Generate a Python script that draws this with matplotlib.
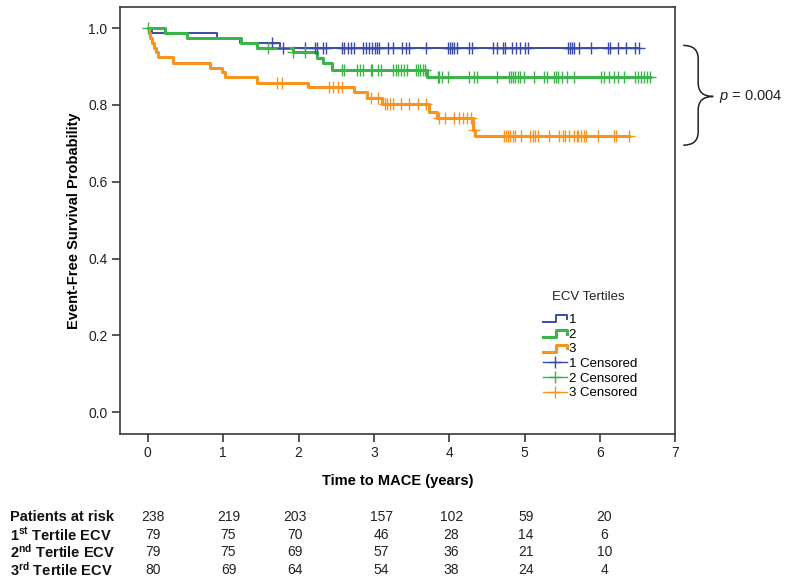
import numpy as np
import matplotlib
matplotlib.use("Agg")
import matplotlib.pyplot as plt
from matplotlib.lines import Line2D
from matplotlib.path import Path
from matplotlib.patches import PathPatch
from matplotlib.legend_handler import HandlerBase
import matplotlib.transforms as mtransforms

plt.rcParams['font.family'] = ['Liberation Sans', 'DejaVu Sans']
plt.rcParams['mathtext.fontset'] = 'custom'
plt.rcParams['mathtext.rm'] = 'Liberation Sans'
plt.rcParams['mathtext.it'] = 'Liberation Sans:italic'
plt.rcParams['mathtext.bf'] = 'Liberation Sans:bold'

# --- data (years, survival) ---
t1_events = [0.05, 0.92, 1.22, 1.76]
s1_events = [0.987, 0.975, 0.962, 0.949]
t1_cens = [1.65, 1.80, 2.09, 2.22, 2.25, 2.33, 2.36, 2.58, 2.60, 2.65, 2.69, 2.73,
           2.85, 2.89, 2.93, 2.98, 3.01, 3.04, 3.07, 3.19, 3.25, 3.38, 3.42, 3.47,
           3.69, 3.98, 4.01, 4.04, 4.07, 4.11, 4.26, 4.30, 4.58, 4.64, 4.71, 4.74,
           4.84, 4.89, 4.94, 5.00, 5.04, 5.58, 5.60, 5.63, 5.66, 5.72, 5.88, 6.11,
           6.14, 6.24, 6.35, 6.47, 6.52]

t2_events = [0.23, 0.52, 1.24, 1.45, 1.92, 2.25, 2.32, 2.45, 3.71]
s2_events = [0.987, 0.975, 0.962, 0.949, 0.937, 0.921, 0.908, 0.892, 0.872]
t2_cens = [0.0, 1.60, 1.92, 2.09, 2.58, 2.61, 2.78, 2.81, 2.86, 2.96, 2.98, 3.05,
           3.09, 3.26, 3.29, 3.32, 3.36, 3.40, 3.44, 3.56, 3.58, 3.61, 3.65, 3.68,
           3.85, 3.87, 3.91, 3.99, 4.26, 4.33, 4.37, 4.63, 4.79, 4.82, 4.85, 4.87,
           4.91, 4.94, 4.99, 5.13, 5.26, 5.30, 5.39, 5.42, 5.45, 5.50, 5.56, 5.66,
           6.01, 6.06, 6.12, 6.19, 6.24, 6.32, 6.46, 6.51, 6.55, 6.59, 6.63, 6.67]

t3_events = [0.01, 0.03, 0.05, 0.08, 0.11, 0.13, 0.33, 0.83, 0.98, 1.03, 1.45,
             2.12, 2.73, 2.91, 3.11, 3.73, 3.84, 4.31, 4.32, 4.34]
s3_events = [0.987, 0.975, 0.962, 0.949, 0.937, 0.925, 0.910, 0.897, 0.885, 0.872,
             0.858, 0.846, 0.834, 0.817, 0.802, 0.781, 0.766, 0.750, 0.735, 0.720]
t3_cens = [1.72, 1.78, 2.41, 2.46, 2.52, 2.58, 2.96, 3.05, 3.15, 3.18, 3.22, 3.26,
           3.36, 3.46, 3.58, 3.69, 3.86, 3.95, 4.06, 4.13, 4.18, 4.23, 4.29, 4.33,
           4.73, 4.75, 4.78, 4.81, 4.85, 4.87, 4.95, 5.07, 5.11, 5.14, 5.18, 5.33,
           5.46, 5.51, 5.54, 5.59, 5.65, 5.69, 5.71, 5.75, 5.79, 5.82, 5.98, 6.19,
           6.22, 6.39]

group_labels = ['1', '2', '3']
colors = ['#3a4ca8', '#3bb54a', '#f7941d']
widths = [1.4, 2.2, 2.2]

risk_labels = ['Patients at risk', r'1$^{\mathbf{st}}$ Tertile ECV',
               r'2$^{\mathbf{nd}}$ Tertile ECV', r'3$^{\mathbf{rd}}$ Tertile ECV']
risk_total = [238, 219, 203, 157, 102, 59, 20]
risk_t1 = [79, 75, 70, 46, 28, 14, 6]
risk_t2 = [79, 75, 69, 57, 36, 21, 10]
risk_t3 = [80, 69, 64, 54, 38, 24, 4]
p_text = r'$\it{p}$ = 0.004'


def surv_at(t, times, surv):
    idx = np.searchsorted(times, t, side='right')
    return np.r_[1.0, surv][idx]


class StepHandler(HandlerBase):
    def create_artists(self, legend, orig_handle, xdescent, ydescent,
                       width, height, fontsize, trans):
        xs = np.array([0, 0.55, 0.55, 1.0, 1.0]) * width - xdescent
        ys = np.array([0.1, 0.1, 0.85, 0.85, 0.45]) * height - ydescent
        ln = Line2D(xs, ys, color=orig_handle.get_color(),
                    lw=orig_handle.get_linewidth(), transform=trans)
        return [ln]


fig = plt.figure(figsize=(8, 5.83), dpi=100)
ax = fig.add_axes([0.15, 0.2556, 0.694, 0.7324])

groups = [(t1_events, s1_events, t1_cens),
          (t2_events, s2_events, t2_cens),
          (t3_events, s3_events, t3_cens)]

step_handles = []
cens_handles = []
for (te, se, tc), col, lw, lab in zip(groups, colors, widths, group_labels):
    end = max(tc)
    xs = np.r_[0.0, te, end]
    ys = np.r_[1.0, se, se[-1]]
    ax.step(xs, ys, where='post', color=col, lw=lw, zorder=3)
    ax.plot(tc, surv_at(np.array(tc), te, se), ls='none', marker='+',
            ms=8, mew=1.0, color=col, zorder=4)
    step_handles.append(Line2D([], [], color=col, lw=lw, label=lab))
    cens_handles.append(Line2D([], [], color=col, lw=1.0, marker='+', ms=9,
                               mew=1.0, label=lab + ' Censored'))

ax.set_xlim(-0.37, 7.0)
ax.set_ylim(-0.057, 1.055)
ax.set_xticks(range(8))
ax.set_yticks([0.0, 0.2, 0.4, 0.6, 0.8, 1.0])
ax.set_yticklabels(['0.0', '0.2', '0.4', '0.6', '0.8', '1.0'])
for sp in ax.spines.values():
    sp.set_color('#3a3a3a')
    sp.set_linewidth(1.2)
ax.tick_params(direction='out', length=6, width=1.2, color='#3a3a3a',
               labelsize=10, labelcolor='#222222', pad=3)
ax.set_ylabel('Event-Free Survival Probability', fontsize=10.5,
              fontweight='bold', labelpad=5)
ax.set_xlabel('Time to MACE (years)', fontsize=10.5, fontweight='bold',
              labelpad=10)

leg = ax.legend(handles=step_handles + cens_handles,
                loc='upper left', bbox_to_anchor=(543 / 800, 1 - 314 / 583),
                bbox_transform=fig.transFigure, frameon=False, fontsize=9.5,
                handlelength=1.8, handletextpad=0.15,
                labelspacing=0.18, borderpad=0, borderaxespad=0,
                handler_map={h: StepHandler() for h in step_handles})
fig.text(588 / 800, 1 - 297 / 583, 'ECV Tertiles', fontsize=9.5, ha='center',
         va='center', color='#222222')

# brace and p-value to the right of the axes
bt = mtransforms.blended_transform_factory(ax.transAxes, ax.transData)
xh, xs_, xt = 1.0144, 1.0414, 1.0685
yt, ym, yb, d = 0.955, 0.822, 0.695, 0.035
verts = [(xh, yt), (xs_, yt), (xs_, yt - d), (xs_, ym + d), (xs_, ym), (xt, ym),
         (xs_, ym), (xs_, ym - d), (xs_, yb + d), (xs_, yb), (xh, yb)]
codes = [Path.MOVETO, Path.CURVE3, Path.CURVE3, Path.LINETO, Path.CURVE3, Path.CURVE3,
         Path.CURVE3, Path.CURVE3, Path.LINETO, Path.CURVE3, Path.CURVE3]
ax.add_patch(PathPatch(Path(verts, codes), transform=bt, fill=False, lw=1.1,
                       color='#222222', clip_on=False))
ax.text(1.079, ym, p_text, transform=bt, fontsize=10.5, va='center', ha='left',
        color='#222222')

# numbers at risk table
col_x = [0.07, 1.07, 1.95, 3.10, 4.03, 5.02, 6.06]
row_y = [1 - 517 / 583, 1 - 535 / 583, 1 - 552 / 583, 1 - 570 / 583]
tt = mtransforms.blended_transform_factory(ax.transData, fig.transFigure)
for lab, vals, y in zip(risk_labels, [risk_total, risk_t1, risk_t2, risk_t3], row_y):
    fig.text(10 / 800, y, lab, fontsize=10.5, fontweight='bold', va='center',
             ha='left', color='#111111')
    for x, v in zip(col_x, vals):
        ax.text(x, y, str(v), transform=tt, fontsize=10, va='center', ha='center',
                color='#222222', clip_on=False)

fig.savefig('out.png', dpi=100)
